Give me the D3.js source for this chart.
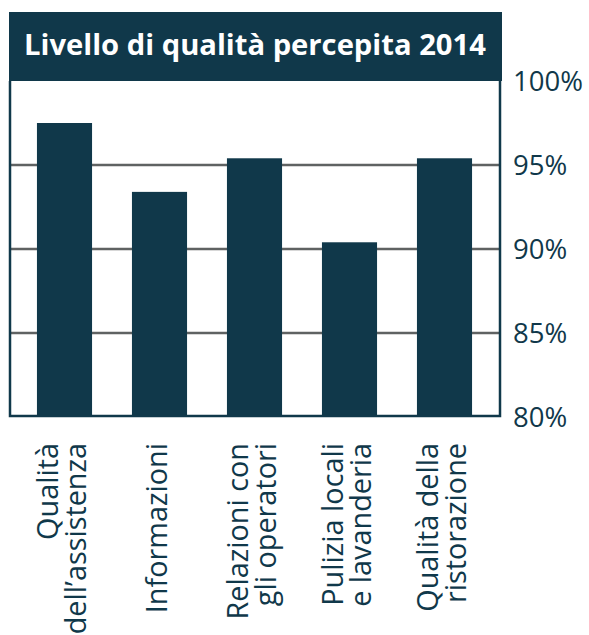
<!DOCTYPE html>
<html>
<head>
<meta charset="utf-8">
<script src="https://cdn.jsdelivr.net/npm/d3@7"></script>
<style>
  html, body { margin: 0; padding: 0; background: #fff; }
  svg { display: block; font-family: "Open Sans", "Noto Sans", sans-serif; }
</style>
</head>
<body>
<svg id="chart" width="589" height="635"></svg>
<script>
const title = "Livello di qualità percepita 2014";
const categories = [
  ["Qualità", "dell’assistenza"],
  ["Informazioni"],
  ["Relazioni con", "gli operatori"],
  ["Pulizia locali", "e lavanderia"],
  ["Qualità della", "ristorazione"]
];
const values = [97.5, 93.4, 95.4, 90.4, 95.4];
const yTicks = [80, 85, 90, 95, 100];

const dark = "#10384a";
const svg = d3.select("#chart");

const plotLeft = 10, plotRight = 501, plotTop = 81, plotBottom = 417;

const x = d3.scaleBand()
  .domain(d3.range(categories.length))
  .range([17, 492])
  .paddingInner(0.42)
  .paddingOuter(0.21);

const y = d3.scaleLinear().domain([80, 100]).range([plotBottom, plotTop]);

// title bar
svg.append("rect")
  .attr("x", 9).attr("y", 12)
  .attr("width", 493).attr("height", 69)
  .attr("fill", dark);

const t = svg.append("text")
  .attr("x", 24).attr("y", 55)
  .attr("fill", "#fff")
  .attr("font-weight", "bold")
  .attr("font-size", 26)
  .text(title);
const tw = t.node().getComputedTextLength();
t.attr("font-size", 26 * 462 / tw);

// gridlines
svg.append("g")
  .selectAll("line")
  .data(yTicks.filter(d => d > 80 && d < 100))
  .join("line")
  .attr("x1", plotLeft).attr("x2", plotRight)
  .attr("y1", d => y(d)).attr("y2", d => y(d))
  .attr("stroke", "#5f6262")
  .attr("stroke-width", 2.5);

// bars
svg.append("g")
  .selectAll("rect")
  .data(values)
  .join("rect")
  .attr("x", (d, i) => x(i))
  .attr("width", x.bandwidth())
  .attr("y", d => y(d))
  .attr("height", d => plotBottom - y(d))
  .attr("fill", dark);

// frame (left, bottom, right)
svg.append("path")
  .attr("d", `M${plotLeft},${plotTop} V${plotBottom - 1} H${plotRight - 1} V${plotTop}`)
  .attr("fill", "none")
  .attr("stroke", dark)
  .attr("stroke-width", 2.5);

// right axis labels
const yAxis = d3.axisRight(y)
  .tickValues(yTicks)
  .tickSize(0)
  .tickPadding(12)
  .tickFormat(d => d + "%");
const ya = svg.append("g")
  .attr("transform", `translate(${plotRight},0)`)
  .call(yAxis);
ya.select(".domain").remove();
ya.selectAll("text")
  .attr("font-size", 27.5)
  .attr("font-family", "Open Sans, Noto Sans, sans-serif")
  .attr("fill", dark)
  .attr("dy", "0.36em");

// x labels rotated
const lab = svg.append("g")
  .selectAll("text")
  .data(categories)
  .join("text")
  .attr("transform", (d, i) => {
    const cx = x(i) + x.bandwidth() / 2;
    return `translate(${cx},443) rotate(-90)`;
  })
  .attr("text-anchor", "end")
  .attr("font-size", 28.8)
  .attr("fill", dark);

lab.each(function(d) {
  const el = d3.select(this);
  const n = d.length;
  d.forEach((line, j) => {
    el.append("tspan")
      .attr("x", 0)
      .attr("y", (j - (n - 1) / 2) * 28 + 7.5)
      .text(line);
  });
});
</script>
</body>
</html>
